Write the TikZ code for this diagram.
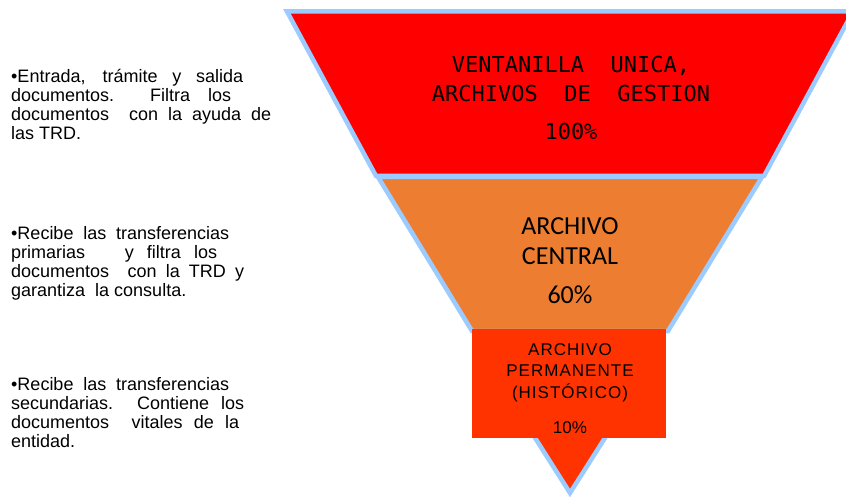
\documentclass[tikz,border=0pt]{standalone}
\usepackage{fontspec}
\setmainfont{Liberation Sans}
\newfontfamily\arialfont{Liberation Sans}
\newfontfamily\monofont{DejaVu Sans Mono}
\newfontfamily\calfont{Carlito}
\newfontfamily\espfont[LetterSpace=6]{Liberation Sans}
\definecolor{bordure}{HTML}{9CCBFF}
\definecolor{rouge}{HTML}{FF0000}
\definecolor{orange}{HTML}{ED7D31}
\definecolor{rougeorange}{HTML}{FF3300}
\newcommand{\ligne}[2]{\makebox[#1pt][s]{#2}}
\tikzset{
  texte/.style={anchor=base west,align=left,inner sep=0,font=\arialfont\fontsize{18}{19}\selectfont},
  titre/.style={anchor=base,align=center,inner sep=0}
}
\begin{document}
\begin{tikzpicture}[x=1pt,y=-1pt]
            \useasboundingbox (0,0) rectangle (846,497);
            \clip (0,0) rectangle (846,497);

            \draw[bordure,line width=4.5,fill=rougeorange] (511,400) -- (629,400) -- (570,493) -- cycle; %pointe
            \draw[bordure,line width=4.5,fill=orange] (378,177) -- (762,177) -- (668,331) -- (472,331) -- cycle; %archivo central
            \draw[bordure,line width=4.5,fill=rouge] (287,11.5) -- (853,11.5) -- (764,176) -- (376,176) -- cycle; %ventanilla
            \fill[rougeorange] (472,329) rectangle (666,438); %boite permanente

            \node[titre,font=\monofont\fontsize{22}{29}\selectfont] (ventanilla) at (571,102) {VENTANILLA\ \ UNICA,\\ARCHIVOS\ \ DE\ \ GESTION};
            \node[titre,font=\monofont\fontsize{22}{29}\selectfont] (cent) at (571,140) {100\%};

            \node[titre,font=\calfont\fontsize{26}{30}\selectfont] (central) at (570,264) {ARCHIVO\\CENTRAL};
            \node[titre,font=\calfont\fontsize{26}{30}\selectfont] (soixante) at (570,303) {60\%};

            \node[titre,font=\espfont\fontsize{17}{21.5}\selectfont] (permanente) at (570,398) {ARCHIVO\\PERMANENTE\\(HISTÓRICO)};
            \node[titre,font=\fontsize{17}{21}\selectfont] (dix) at (570,433) {10\%};

            \node[texte] (gestion) at (11,140) {\ligne{232}{•Entrada, trámite y salida}\\\ligne{220}{documentos.\ \ Filtra los}\\\ligne{260}{documentos\ \ con la ayuda de}\\las TRD.};
            \node[texte] (primarias) at (11,296) {\ligne{218}{•Recibe las transferencias}\\\ligne{206}{primarias\ \ \ y filtra los}\\\ligne{233}{documentos\ \ con la TRD y}\\garantiza\ \ la consulta.};
            \node[texte] (secundarias) at (11,447) {\ligne{218}{•Recibe las transferencias}\\\ligne{233}{secundarias.\ \ Contiene los}\\\ligne{228}{documentos\ \ vitales de la}\\entidad.};
\end{tikzpicture}
\end{document}
